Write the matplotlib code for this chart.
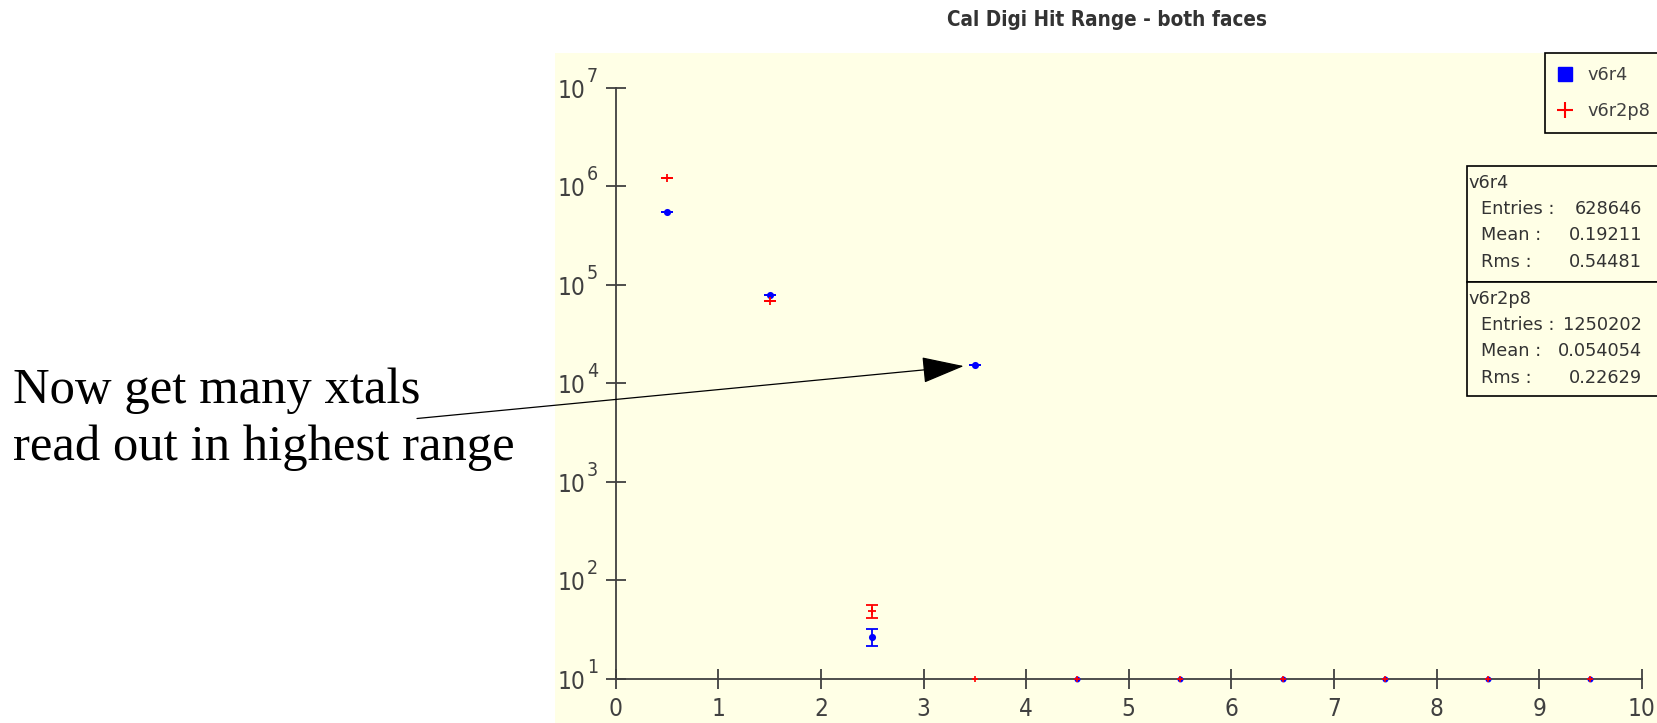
import matplotlib
matplotlib.use('Agg')
import matplotlib.pyplot as plt
import numpy as np
from matplotlib import font_manager as fm
from matplotlib.transforms import offset_copy
from matplotlib.lines import Line2D
from matplotlib.patches import Rectangle

# ---------------- data ----------------
bin_centers = [0.5, 1.5, 2.5, 3.5, 4.5, 5.5, 6.5, 7.5, 8.5, 9.5]
v6r4_counts = [5.5e5, 7.9e4, 27, 1.54e4, 0, 0, 0, 0, 0, 0]
v6r2p8_counts = [1.23e6, 6.9e4, 49, 0, 0, 0, 0, 0, 0, 0]
series_names = ["v6r4", "v6r2p8"]
stats_v6r4 = [("Entries :", "628646"), ("Mean :", "0.19211"), ("Rms :", "0.54481")]
stats_v6r2p8 = [("Entries :", "1250202"), ("Mean :", "0.054054"), ("Rms :", "0.22629")]
x_ticks = [0, 1, 2, 3, 4, 5, 6, 7, 8, 9, 10]
y_exponents = [1, 2, 3, 4, 5, 6, 7]
title = "Cal Digi Hit Range - both faces"
note_lines = ["Now get many xtals", "read out in highest range"]

# ---------------- fonts ----------------
_fonts = fm.fontManager.ttflist
_names = {f.name for f in _fonts}
if 'Liberation Sans Narrow' in _names:
    NARROW = dict(family='Liberation Sans Narrow')
elif any(f.name == 'DejaVu Sans' and f.stretch not in ('normal', 500, 'medium') for f in _fonts):
    NARROW = dict(family='DejaVu Sans', fontstretch='condensed')
else:
    NARROW = dict(family='Liberation Sans')
SANS = ['DejaVu Sans']
SERIF = ['Liberation Serif', 'DejaVu Serif']

# ---------------- style ----------------
W, H = 1657, 723
BG = '#FFFFE6'
AXC = '#404040'

fig = plt.figure(figsize=(W / 100, H / 100), dpi=100)
fig.patch.set_facecolor('white')
renderer = fig.canvas.get_renderer()

def fx(x):
    return x / W

def fy(y):
    return 1 - y / H

def fit_width(t, target):
    w = t.get_window_extent(renderer).width
    t.set_fontsize(t.get_fontsize() * target / w)

ax = fig.add_axes([555 / W, 0, (W - 555) / W, (H - 53) / H])
ax.set_facecolor(BG)
ax.set_yscale('log')
ax.set_xlim(-0.592, 10.149)
ax.set_ylim(10 ** 0.5533, 10 ** 7.355)

for s in ['top', 'right']:
    ax.spines[s].set_visible(False)
ax.spines['left'].set_position(('data', 0))
ax.spines['bottom'].set_position(('data', 10))
ax.spines['left'].set_bounds(10, 1e7)
ax.spines['bottom'].set_bounds(0, 10)
for s in ['left', 'bottom']:
    ax.spines[s].set_color(AXC)
    ax.spines[s].set_linewidth(1.3)
    ax.spines[s].set_zorder(2)

ax.set_xticks(x_ticks)
ax.set_xticklabels([str(t) for t in x_ticks], fontsize=17.5, color=AXC, **NARROW)
ax.set_yticks([10.0 ** e for e in y_exponents])
ax.yaxis.set_minor_locator(matplotlib.ticker.NullLocator())
ax.set_yticklabels([])
ax.tick_params(axis='both', which='major', direction='inout', length=14.5,
               width=1.3, color=AXC)
ax.tick_params(axis='x', pad=6.0)

# y tick labels: "10" with a near-full-size exponent
for e in y_exponents:
    t1 = offset_copy(ax.transData, fig=fig, x=-30.5, y=-3, units='dots')
    ax.text(0, 10.0 ** e, "10", transform=t1, ha='right', va='center',
            fontsize=17.5, color=AXC, **NARROW)
    t2 = offset_copy(ax.transData, fig=fig, x=-29, y=11.5, units='dots')
    ax.text(0, 10.0 ** e, str(e), transform=t2, ha='left', va='center',
            fontsize=14, color=AXC, **NARROW)

floor = 10.0

def draw(counts, color, marker, ms, z):
    c = np.array(counts, float)
    xc = np.array(bin_centers)
    nz = c > 0
    ax.errorbar(xc[nz], c[nz], yerr=np.sqrt(c[nz]), fmt=marker, color=color,
                ms=ms, mew=1.3, elinewidth=1.3, capsize=4.6, capthick=1.4,
                zorder=z, clip_on=False)
    ax.plot(xc[~nz], np.full((~nz).sum(), floor), marker, color=color,
            ms=ms * 0.8, mew=1.2, zorder=z, clip_on=False)

draw(v6r4_counts, 'blue', 'o', 3.8, 4)
draw(v6r2p8_counts, 'red', '+', 6.0, 5)

# legend
handles = [Line2D([], [], linestyle='none', marker='s', color='blue', ms=10),
           Line2D([], [], linestyle='none', marker='+', color='red', ms=11, mew=1.5)]
leg = fig.legend(handles, series_names, loc='upper left',
                 bbox_to_anchor=(fx(1545), fy(53)), bbox_transform=fig.transFigure,
                 prop={'family': SANS, 'size': 12.8}, labelcolor=AXC,
                 fancybox=False, shadow=False, framealpha=1, facecolor=BG,
                 edgecolor='black', borderpad=0.72, labelspacing=1.05,
                 handlelength=0.8, handletextpad=0.85, borderaxespad=0)
leg.get_frame().set_linewidth(1.2)

# stats boxes
def stats_box(top, bottom, name, rows):
    fig.patches.append(Rectangle((fx(1467), fy(bottom)), fx(1700) - fx(1467),
                                 fy(top) - fy(bottom), transform=fig.transFigure,
                                 facecolor=BG, edgecolor='black', lw=1.2, zorder=3))
    fig.text(fx(1468), fy(top + 17), name, ha='left', va='center',
             family=SANS, fontsize=12.8, color='#333333', zorder=4)
    for i, (lab, val) in enumerate(rows):
        yy = top + 43 + 26.3 * i
        fig.text(fx(1481), fy(yy), lab, ha='left', va='center',
                 family=SANS, fontsize=12.8, color='#333333', zorder=4)
        fig.text(fx(1642), fy(yy), val, ha='right', va='center',
                 family=SANS, fontsize=12.8, color='#333333', zorder=4)

stats_box(166, 282, series_names[0], stats_v6r4)
stats_box(282, 396, series_names[1], stats_v6r2p8)

# title (sized to the reference width)
tt = fig.text(fx(1107), fy(20), title, ha='center', va='center',
              fontweight='bold', fontsize=17, color='#333333', **NARROW)
fit_width(tt, 320)

# annotation
n1 = fig.text(fx(13), fy(403), note_lines[0], ha='left', va='baseline',
              family=SERIF, fontsize=36, color='black')
n2 = fig.text(fx(13), fy(460.5), note_lines[1], ha='left', va='baseline',
              family=SERIF, fontsize=36, color='black')
fit_width(n2, 502)
n1.set_fontsize(n2.get_fontsize())
ax.annotate('', xy=(bin_centers[3], v6r4_counts[3]), xycoords='data',
            xytext=(417, H - 418.5), textcoords='figure pixels',
            arrowprops=dict(arrowstyle='-|>,head_length=1.35,head_width=0.42',
                            mutation_scale=20, color='black', lw=0.9,
                            shrinkA=0, shrinkB=8),
            annotation_clip=False, zorder=6)

fig.savefig('out.png', dpi=100, facecolor='white')
